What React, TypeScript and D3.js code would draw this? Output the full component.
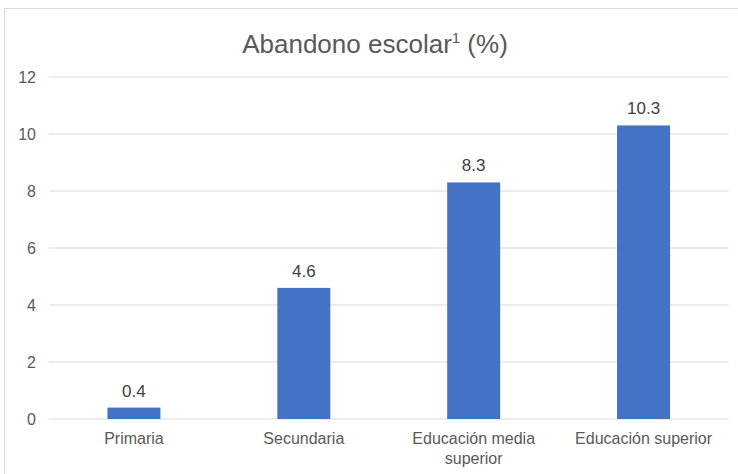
import React from "react";
import * as d3 from "d3";

const categories: string[][] = [["Primaria"], ["Secundaria"], ["Educación media", "superior"], ["Educación superior"]];
const values: number[] = [0.4, 4.6, 8.3, 10.3];
const valueLabels: string[] = ["0.4", "4.6", "8.3", "10.3"];
const yTicks: number[] = [0, 2, 4, 6, 8, 10, 12];

export default function App() {
  const W = 738, H = 474;
  const left = 49, right = 728.5, top = 77, bottom = 419;
  const x = d3.scaleBand<number>().domain(d3.range(values.length)).range([left, right]).padding(0);
  const y = d3.scaleLinear().domain([0, 12]).range([bottom, top]);
  const bw = 53;
  const font = "'Liberation Sans', Arial, sans-serif";
  return (
    <svg width={W} height={H} style={{ position: "absolute", left: 0, top: 0 }}>
      <rect x={0} y={0} width={W} height={H} fill="#fff" />
      <rect x={4.5} y={8.5} width={W + 10} height={H + 10} fill="#fff" stroke="#d9d9d9" strokeWidth={1} />
      <text x={375} y={53} textAnchor="middle" fontFamily={font} fontSize={26} fill="#595959">
        Abandono escolar<tspan fontSize={15} dy={-10}>1</tspan><tspan dy={10}> (%)</tspan>
      </text>
      {yTicks.map((t) => (
        <g key={t}>
          <line x1={left} x2={right} y1={y(t)} y2={y(t)} stroke="#d9d9d9" strokeWidth={1} />
          <text x={36} y={y(t) + 6} textAnchor="end" fontFamily={font} fontSize={16} fill="#595959">{t}</text>
        </g>
      ))}
      {values.map((v, i) => {
        const cx = x(i)! + x.bandwidth() / 2;
        return (
          <g key={i}>
            <rect x={cx - bw / 2} y={y(v)} width={bw} height={y(0) - y(v)} fill="#4472c4" />
            <text x={cx} y={y(v) - 11} textAnchor="middle" fontFamily={font} fontSize={17} fill="#404040">{valueLabels[i]}</text>
            {categories[i].map((line, j) => (
              <text key={j} x={cx} y={444 + j * 20} textAnchor="middle" fontFamily={font} fontSize={16} fill="#595959">{line}</text>
            ))}
          </g>
        );
      })}
    </svg>
  );
}
